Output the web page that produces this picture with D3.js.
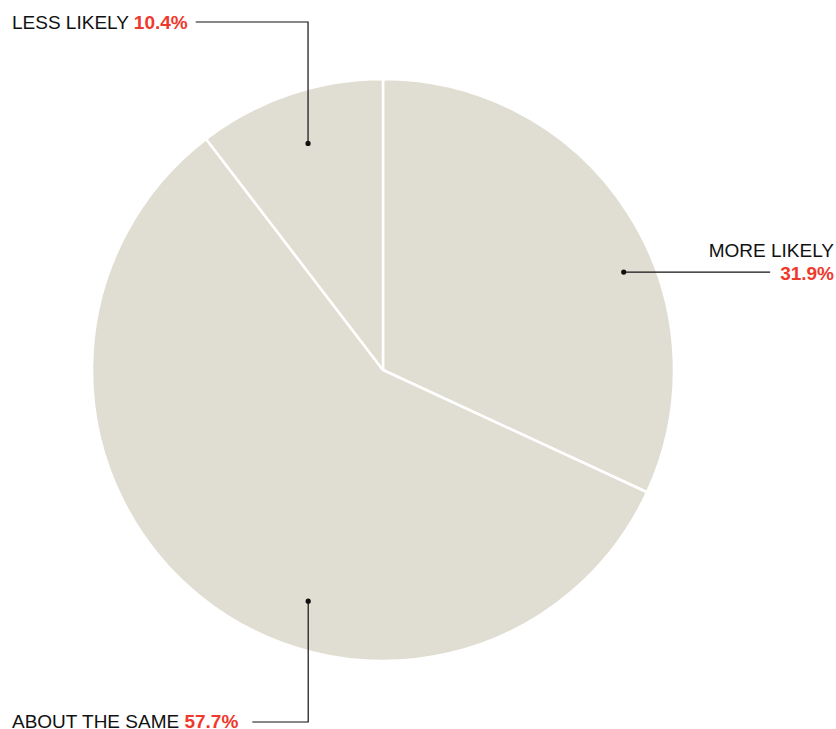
<!DOCTYPE html>
<html>
<head>
<meta charset="utf-8">
<script src="https://cdn.jsdelivr.net/npm/d3@7"></script>
<style>
  html, body { margin: 0; padding: 0; background: #fff; }
  svg { display: block; }
  text { font-family: "Liberation Sans", Arial, Helvetica, sans-serif; }
</style>
</head>
<body>
<svg id="chart" width="836" height="729"></svg>
<script>
// Survey answers, in drawing order (clockwise from 12 o'clock)
const categories = ["MORE LIKELY", "ABOUT THE SAME", "LESS LIKELY"];
const shares = [31.9, 57.7, 10.4];

// Where each callout dot sits inside its slice: fraction of the slice's sweep, fraction of radius
const dotAlong = [0.591, 0.40, 0.511];
const dotRadius = [0.893, 0.835, 0.82];

const width = 836, height = 729;
const cx = 383, cy = 370, radius = 291;
const fill = "#e0ded2";
const red = "#ee3a2c";
const fontSize = 19;

const svg = d3.select("#chart");
const data = categories.map((c, i) => ({ label: c, value: shares[i], i }));

const pie = d3.pie().value(d => d.value).sort(null);
const arc = d3.arc().innerRadius(0).outerRadius(radius);
const arcs = pie(data);

const g = svg.append("g").attr("transform", `translate(${cx},${cy})`);

g.selectAll("path.slice")
  .data(arcs)
  .join("path")
  .attr("class", "slice")
  .attr("d", arc)
  .attr("fill", fill)
  .attr("stroke", "#fff")
  .attr("stroke-width", 2.5)
  .attr("stroke-linejoin", "round");

// callout dot positions derived from each slice's angles
function dotPos(a) {
  const i = a.data.i;
  const ang = a.startAngle + (a.endAngle - a.startAngle) * dotAlong[i];
  const r = radius * dotRadius[i];
  return [cx + r * Math.sin(ang), cy - r * Math.cos(ang)];
}

const ann = svg.append("g");

function labelText(x, y, anchor, parts) {
  const t = ann.append("text")
    .attr("x", x).attr("y", y)
    .attr("text-anchor", anchor)
    .attr("font-size", fontSize);
  parts.forEach(p => {
    t.append("tspan")
      .text(p.text)
      .attr("fill", p.color)
      .attr("font-weight", p.bold ? "bold" : "normal");
  });
  return t;
}

arcs.forEach(a => {
  const [dx, dy] = dotPos(a);
  const d = a.data;
  const pct = d3.format(".1f")(d.value) + "%";
  let path;
  if (d.label === "MORE LIKELY") {
    const tx = 834;
    labelText(tx, 257, "end", [{ text: d.label, color: "#111" }]);
    const t2 = labelText(tx, 280, "end", [{ text: pct, color: red, bold: true }]);
    const w = t2.node().getComputedTextLength();
    path = `M${dx},${dy}H${tx - w - 10}`;
  } else if (d.label === "LESS LIKELY") {
    const ly = 29;
    const t = labelText(12, ly, "start", [
      { text: d.label + " ", color: "#111" },
      { text: pct, color: red, bold: true }
    ]);
    const w = t.node().getComputedTextLength();
    path = `M${12 + w + 8},${ly - 7}H${dx}V${dy}`;
  } else {
    const ly = 728;
    const t = labelText(12, ly, "start", [
      { text: d.label + " ", color: "#111" },
      { text: pct, color: red, bold: true }
    ]);
    const w = t.node().getComputedTextLength();
    path = `M${12 + w + 14},${ly - 6}H${dx}V${dy}`;
  }
  ann.append("path")
    .attr("d", path)
    .attr("fill", "none")
    .attr("stroke", "#111")
    .attr("stroke-width", 1.2);
  ann.append("circle")
    .attr("cx", dx).attr("cy", dy)
    .attr("r", 2.6)
    .attr("fill", "#111");
});
</script>
</body>
</html>
